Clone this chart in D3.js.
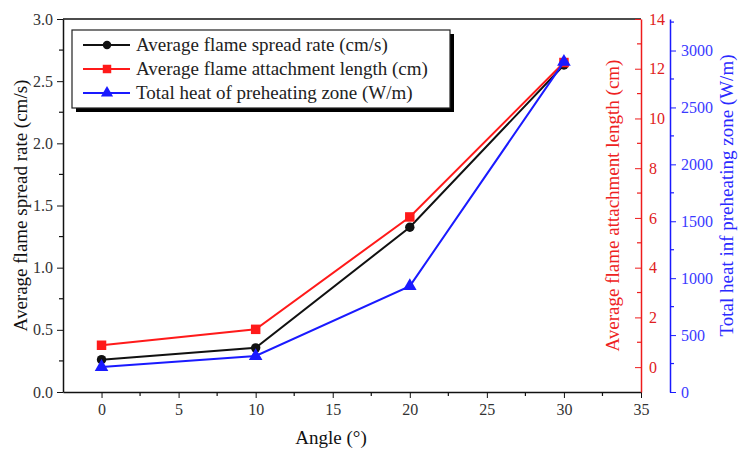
<!DOCTYPE html>
<html>
<head>
<meta charset="utf-8">
<script src="https://cdn.jsdelivr.net/npm/d3@7"></script>
<style>
body{margin:0;background:#fff}
svg, svg text{font-family:"Liberation Serif","Times New Roman",serif !important}
.domain{stroke-width:1.5}
</style>
</head>
<body>
<svg id="chart" width="738" height="454"></svg>
<script>
// data
let angles=[0,10,20,30]
let spreadRate=[0.26,0.355,1.325,2.63]
let attachLength=[0.88,1.52,6.04,12.25]
let preheatHeat=[220,316,930,2900]
let xTicks=[0,5,10,15,20,25,30,35]
let leftTicks=[0,0.5,1,1.5,2,2.5,3]
let redTicks=[0,2,4,6,8,10,12,14]
let blueTicks=[0,500,1000,1500,2000,2500,3000]
let legendNames=["Average flame spread rate (cm/s)","Average flame attachment length (cm)","Total heat of preheating zone (W/m)"]

let plotL=63,plotR=641,plotT=19,plotB=392
let blueX=670
let svg=d3.select("#chart")

let xScale=d3.scaleLinear().domain([-2.5,35]).range([plotL,plotR])
let yLeft=d3.scaleLinear().domain([0,3]).range([plotB,plotT])
let yRed=d3.scaleLinear().domain([-1,14]).range([plotB,plotT])
let yBlue=d3.scaleLinear().domain([0,3277]).range([plotB,plotT])

function minorTicks(g,scale,vals,dir,size,color){
    g.selectAll(".minor").data(vals).enter().append("line")
        .attr("class","minor")
        .attr("x1",0).attr("x2",dir=="h"?0:size)
        .attr("y1",0).attr("y2",dir=="h"?size:0)
        .attr("transform",function(d){return dir=="h"?`translate(${scale(d)},0)`:`translate(0,${scale(d)})`})
        .attr("stroke",color).attr("stroke-width",1.2)
}
function styleAxis(g,textColor,lineColor){
    g.attr("font-family",null)
    g.selectAll("text").attr("font-size",16).attr("fill",textColor)
    g.selectAll("line,path").attr("stroke",lineColor)
}

// X axis
let gx=svg.append("g").attr("transform",`translate(0,${plotB})`)
    .call(d3.axisBottom(xScale).tickValues(xTicks).tickSize(6).tickSizeOuter(0).tickPadding(6))
styleAxis(gx,"#333","#111")
minorTicks(gx,xScale,[2.5,7.5,12.5,17.5,22.5,27.5,32.5],"h",4,"#111")

// top border
svg.append("line").attr("x1",plotL).attr("x2",plotR).attr("y1",plotT).attr("y2",plotT)
    .attr("stroke","#111").attr("stroke-width",1.5)

// left axis
let gl=svg.append("g").attr("transform",`translate(${plotL},0)`)
    .call(d3.axisLeft(yLeft).tickValues(leftTicks).tickFormat(d3.format(".1f")).tickSize(6).tickSizeOuter(0).tickPadding(4))
styleAxis(gl,"#333","#111")
minorTicks(gl,yLeft,[0.25,0.75,1.25,1.75,2.25,2.75],"v",-4,"#111")

// red axis (ticks inward, labels outside)
let gr=svg.append("g").attr("transform",`translate(${plotR},0)`)
    .call(d3.axisRight(yRed).tickValues(redTicks).tickSize(-6).tickSizeOuter(0).tickPadding(8))
styleAxis(gr,"#e02020","#ee1c1c")
minorTicks(gr,yRed,[1,3,5,7,9,11,13],"v",-4,"#ee1c1c")

// blue axis
let gb=svg.append("g").attr("transform",`translate(${blueX},0)`)
    .call(d3.axisRight(yBlue).tickValues(blueTicks).tickFormat(d3.format("d")).tickSize(6).tickSizeOuter(0).tickPadding(5))
styleAxis(gb,"#3a3aff","#1a1aff")
minorTicks(gb,yBlue,[250,750,1250,1750,2250,2750,3250],"v",4,"#1a1aff")

// axis titles
svg.append("text").attr("transform",`translate(27,${(plotT+plotB)/2}) rotate(-90)`)
    .attr("text-anchor","middle").attr("font-size",19).attr("fill","#111")
    .text("Average flame spread rate (cm/s)")
svg.append("text").attr("transform",`translate(619,${(plotT+plotB)/2}) rotate(-90)`)
    .attr("text-anchor","middle").attr("font-size",19).attr("fill","#ee2222")
    .text("Average flame attachment length (cm)")
svg.append("text").attr("transform",`translate(733,${(plotT+plotB)/2-10}) rotate(-90)`)
    .attr("text-anchor","middle").attr("font-size",19).attr("fill","#2a2aff")
    .text("Total heat inf preheating zone (W/m)")
svg.append("text").attr("x",331).attr("y",444)
    .attr("text-anchor","middle").attr("font-size",19).attr("fill","#111")
    .text("Angle (°)")

// series
let series=[
    {vals:spreadRate,y:yLeft,c:"#111111",m:d3.symbolCircle,s:70},
    {vals:attachLength,y:yRed,c:"#ff1a1a",m:d3.symbolSquare,s:90},
    {vals:preheatHeat,y:yBlue,c:"#1a1aff",m:d3.symbolTriangle,s:80}
]
series.forEach(function(sr){
    let pts=angles.map(function(a,i){return [a,sr.vals[i]]})
    svg.append("path").datum(pts)
        .attr("fill","none").attr("stroke",sr.c).attr("stroke-width",2)
        .attr("d",d3.line().x(function(d){return xScale(d[0])}).y(function(d){return sr.y(d[1])}))
    svg.selectAll(null).data(pts).enter().append("path")
        .attr("d",d3.symbol().type(sr.m).size(sr.s))
        .attr("transform",function(d){return `translate(${xScale(d[0])},${sr.y(d[1])})`})
        .attr("fill",sr.c)
})

// legend with shadow
let lg=svg.append("g")
lg.append("rect").attr("x",76).attr("y",34).attr("width",378).attr("height",78).attr("fill","#000")
lg.append("rect").attr("x",72).attr("y",30).attr("width",378).attr("height",78)
    .attr("fill","#fff").attr("stroke","#222").attr("stroke-width",1.2)
series.forEach(function(sr,i){
    let yy=45+i*24
    lg.append("line").attr("x1",83).attr("x2",130).attr("y1",yy).attr("y2",yy)
        .attr("stroke",sr.c).attr("stroke-width",2)
    lg.append("path").attr("d",d3.symbol().type(sr.m).size(sr.s*0.8))
        .attr("transform",`translate(107,${yy})`).attr("fill",sr.c)
    lg.append("text").attr("x",136).attr("y",yy+6).attr("font-size",19).attr("fill","#222")
        .text(legendNames[i])
})
</script>
</body>
</html>
